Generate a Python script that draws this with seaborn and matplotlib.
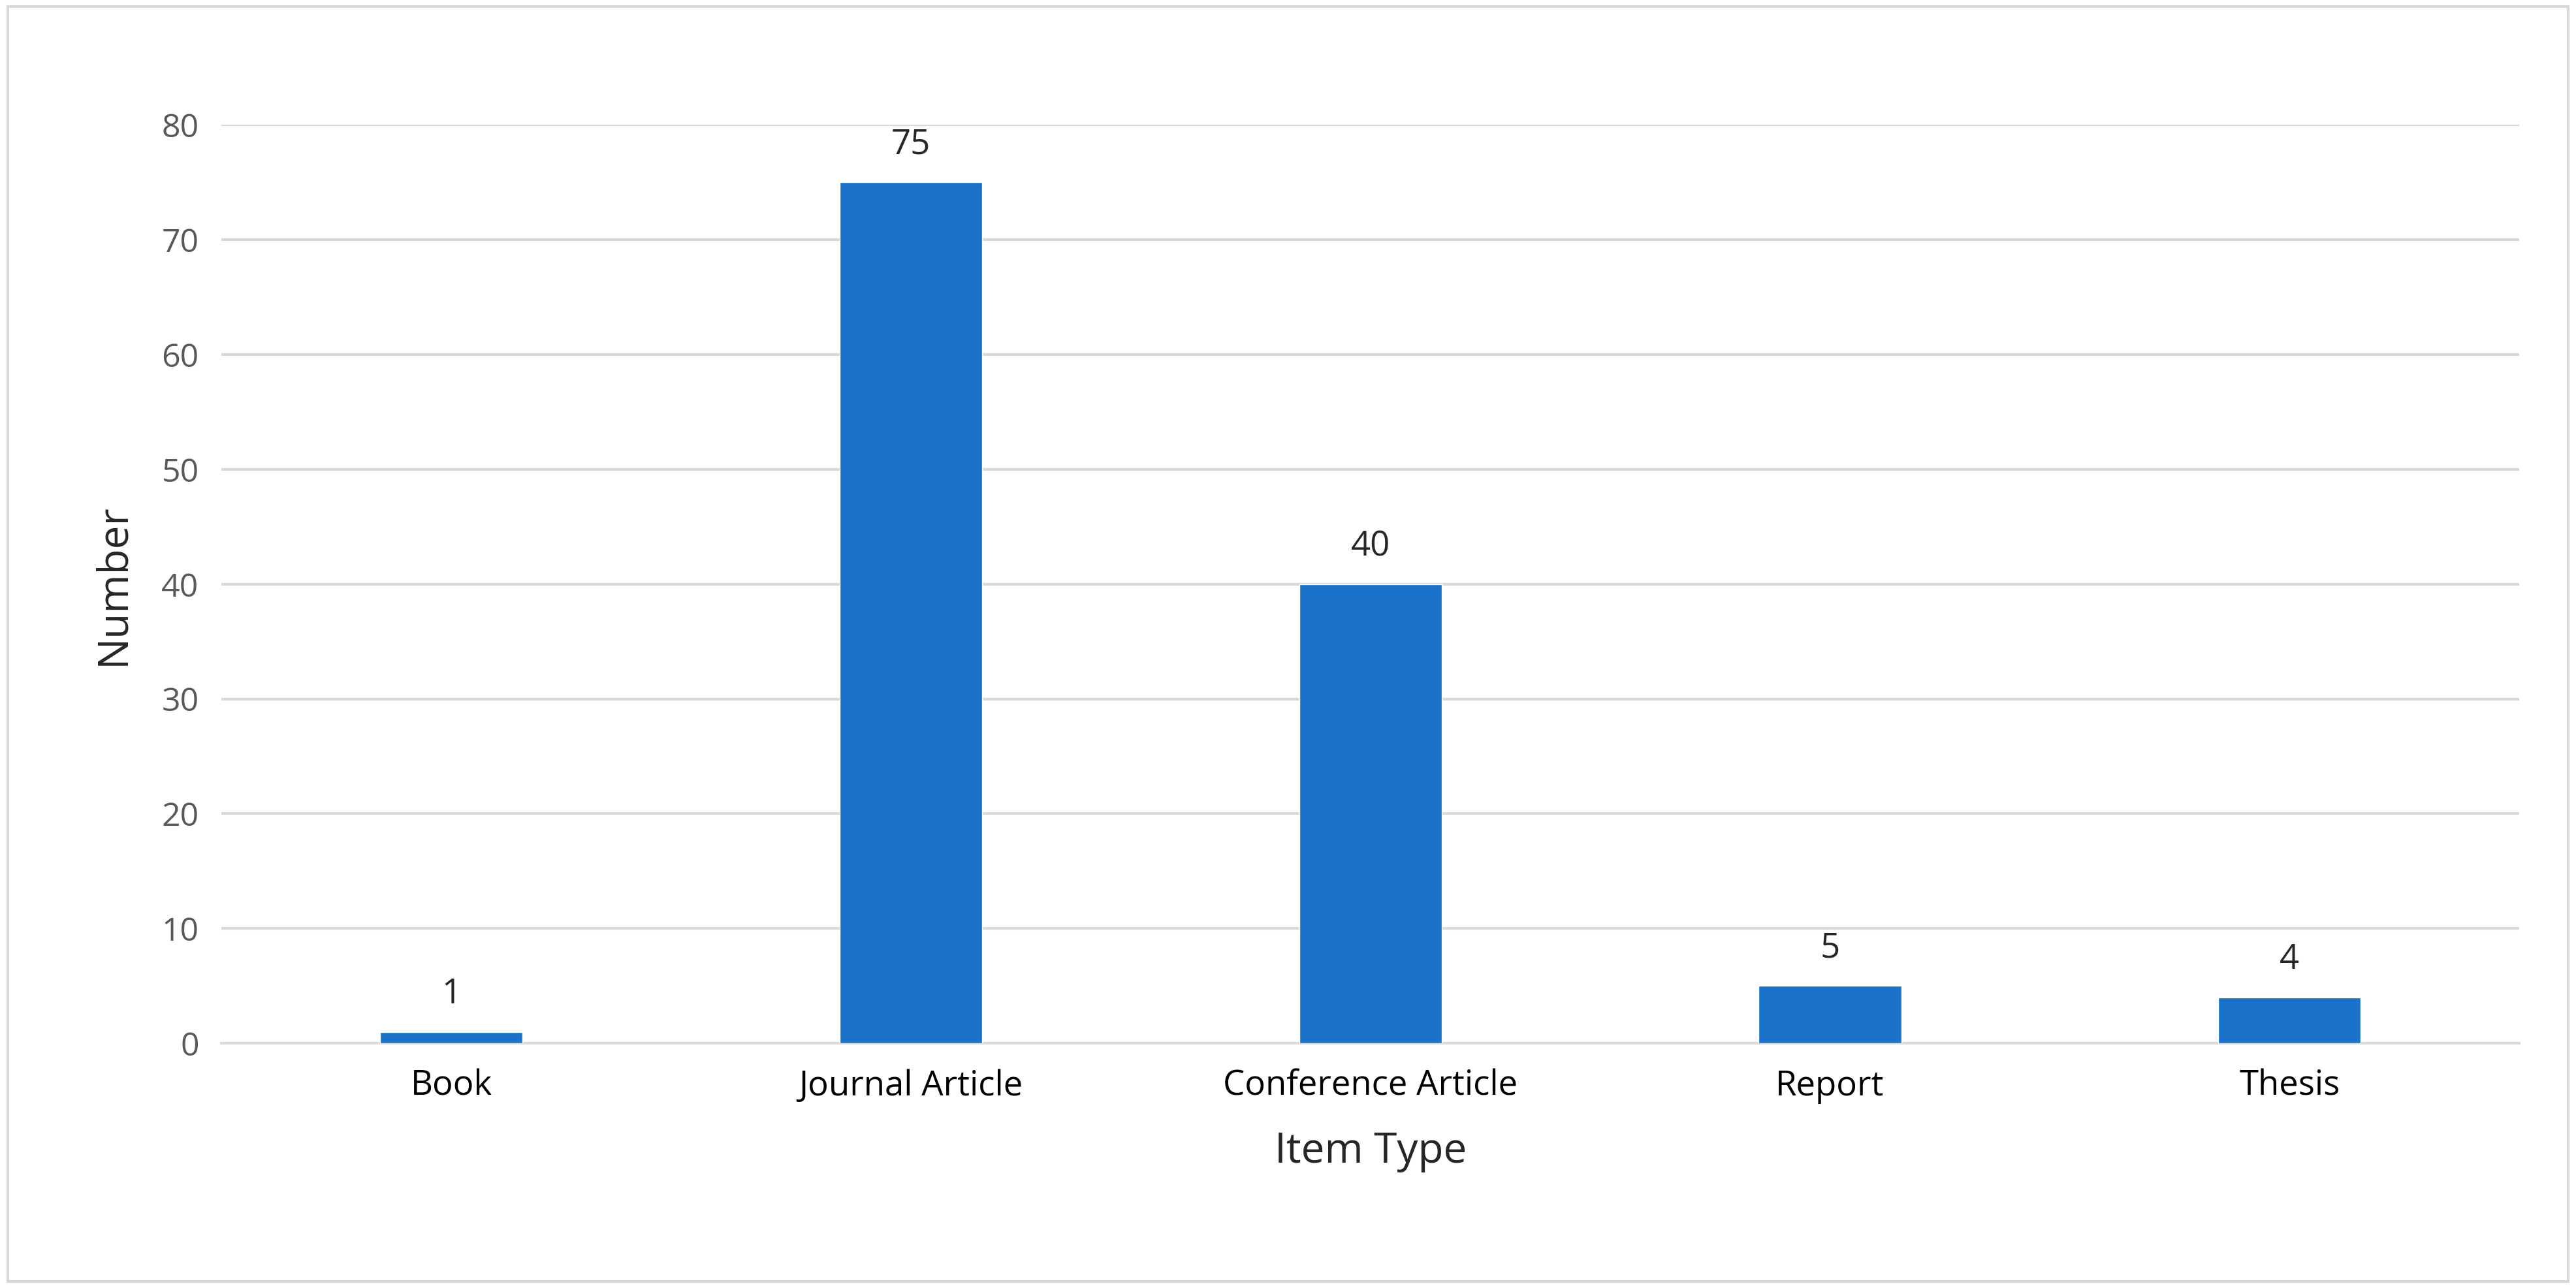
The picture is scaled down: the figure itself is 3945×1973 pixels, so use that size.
import matplotlib
matplotlib.use("Agg")
import matplotlib.pyplot as plt
import seaborn as sns
import pandas as pd
from matplotlib.patches import Rectangle

categories = ["Book", "Journal Article", "Conference Article", "Report", "Thesis"]
values = [1, 75, 40, 5, 4]
yticks = [0, 10, 20, 30, 40, 50, 60, 70, 80]

sns.set_theme(style="white")
plt.rcParams['font.family'] = ['Open Sans', 'DejaVu Sans']

df = pd.DataFrame({"Item Type": categories, "Number": values})
fig = plt.figure(figsize=(39.45, 19.73), dpi=100)
ax = fig.add_axes([0.086, 0.19, 0.892, 0.713])
sns.barplot(data=df, x="Item Type", y="Number", color="#1A73C9", width=0.31, saturation=1, ax=ax, zorder=3)
ax.set_ylim(0, 80)
ax.set_yticks(yticks)
ax.grid(axis="y", color="#D9D9D9", linewidth=3, zorder=0)
for s in ["top", "right", "left"]:
    ax.spines[s].set_visible(False)
ax.spines["bottom"].set_color("#D9D9D9")
ax.spines["bottom"].set_linewidth(3)
ax.tick_params(axis="y", labelsize=36, labelcolor="#595959", length=0, pad=25)
ax.tick_params(axis="x", labelsize=38, labelcolor="#000000", length=0, pad=28)
ax.set_xlabel("Item Type", fontsize=46, labelpad=30)
ax.set_ylabel("Number", fontsize=46, labelpad=30)
for c in ax.containers:
    ax.bar_label(c, labels=[str(v) for v in values], fontsize=38, padding=22)
fig.patches.append(Rectangle((0.003, 0.005), 0.994, 0.99, transform=fig.transFigure,
                             fill=False, edgecolor="#D9D9D9", linewidth=3))
fig.savefig("out.png", dpi=100, facecolor="white")
